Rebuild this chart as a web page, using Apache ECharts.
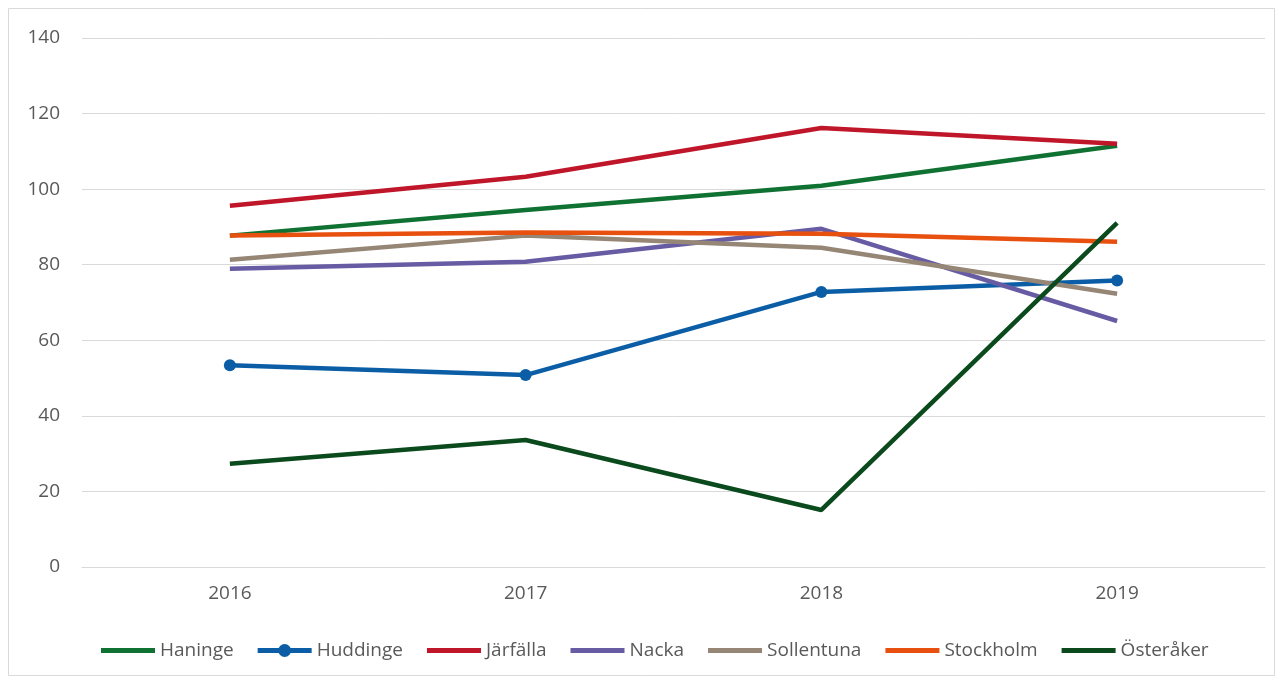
<!DOCTYPE html>
<html>
<head>
<meta charset="utf-8">
<script src="https://cdn.jsdelivr.net/npm/echarts@6/dist/echarts.min.js"></script>
<style>
  html, body { margin: 0; padding: 0; background: #fff; }
  #chart { width: 1282px; height: 679px; }
</style>
</head>
<body>
<div id="chart"></div>
<script>
  // years on the x axis
  let years = ['2016', '2017', '2018', '2019'];

  let haninge = [87.7, 94.5, 100.9, 111.5];
  let huddinge = [53.4, 50.8, 72.8, 75.8];
  let jarfalla = [95.6, 103.3, 116.2, 112.0];
  let nacka = [78.9, 80.8, 89.5, 65.1];
  let sollentuna = [81.3, 87.7, 84.5, 72.3];
  let stockholm = [87.7, 88.5, 88.2, 86.1];
  let osteraker = [27.3, 33.6, 15.1, 91.1];

  let yTicks = [0, 20, 40, 60, 80, 100, 120, 140];

  // legend icons: a plain thick line, and a line with a dot for Huddinge
  const lineIcon = 'path://M0,0 L54,0 L54,5 L0,5 Z';
  const dotIcon = 'path://M0,5.5 L21,5.5 L21,10.5 L0,10.5 Z M33,5.5 L54,5.5 L54,10.5 L33,10.5 Z ' +
    'M33.5,8 A6.5,6.5 0 1,1 20.5,8 A6.5,6.5 0 1,1 33.5,8 Z';

  let chart = echarts.init(document.getElementById('chart'));

  function lineSeries(name, data, color, marker) {
    return {
      name: name,
      type: 'line',
      data: data,
      symbol: marker ? 'circle' : 'none',
      symbolSize: 12,
      showSymbol: marker,
      lineStyle: { width: 4.5, color: color },
      itemStyle: { color: color },
      emphasis: { disabled: true },
      animation: false
    }
  }

  chart.setOption({
    textStyle: { fontFamily: 'Open Sans' },
    graphic: [{
      type: 'rect',
      shape: { x: 8.5, y: 8.5, width: 1266, height: 667 },
      style: { fill: 'none', stroke: '#d9d9d9', lineWidth: 1 },
      silent: true
    }],
    legend: {
      top: 636,
      left: 96,
      itemWidth: 54,
      itemHeight: 14,
      itemGap: 24,
      textStyle: { color: '#595959', fontSize: 19, fontFamily: 'Open Sans' },
      data: [
        { name: 'Haninge', icon: lineIcon },
        { name: 'Huddinge', icon: dotIcon },
        { name: 'Järfälla', icon: lineIcon },
        { name: 'Nacka', icon: lineIcon },
        { name: 'Sollentuna', icon: lineIcon },
        { name: 'Stockholm', icon: lineIcon },
        { name: 'Österåker', icon: lineIcon }
      ]
    },
    grid: {
      left: 82,
      right: 17,
      top: 38,
      bottom: 112,
      containLabel: false
    },
    xAxis: {
      type: 'category',
      data: years,
      boundaryGap: true,
      axisLine: { show: true, lineStyle: { color: '#d9d9d9' } },
      axisTick: { show: false },
      axisLabel: { color: '#595959', fontSize: 19, margin: 17 }
    },
    yAxis: {
      type: 'value',
      min: yTicks[0],
      max: yTicks[yTicks.length - 1],
      interval: 20,
      axisLine: { show: false },
      axisTick: { show: false },
      axisLabel: { color: '#595959', fontSize: 19, margin: 22 },
      splitLine: { lineStyle: { color: '#d9d9d9', width: 1 } }
    },
    series: [
      lineSeries('Haninge', haninge, '#107232', false),
      lineSeries('Huddinge', huddinge, '#0b5ea6', true),
      lineSeries('Järfälla', jarfalla, '#c0162a', false),
      lineSeries('Nacka', nacka, '#675ca4', false),
      lineSeries('Sollentuna', sollentuna, '#968676', false),
      lineSeries('Stockholm', stockholm, '#e8500f', false),
      lineSeries('Österåker', osteraker, '#0a4a1d', false)
    ]
  });
</script>
</body>
</html>
